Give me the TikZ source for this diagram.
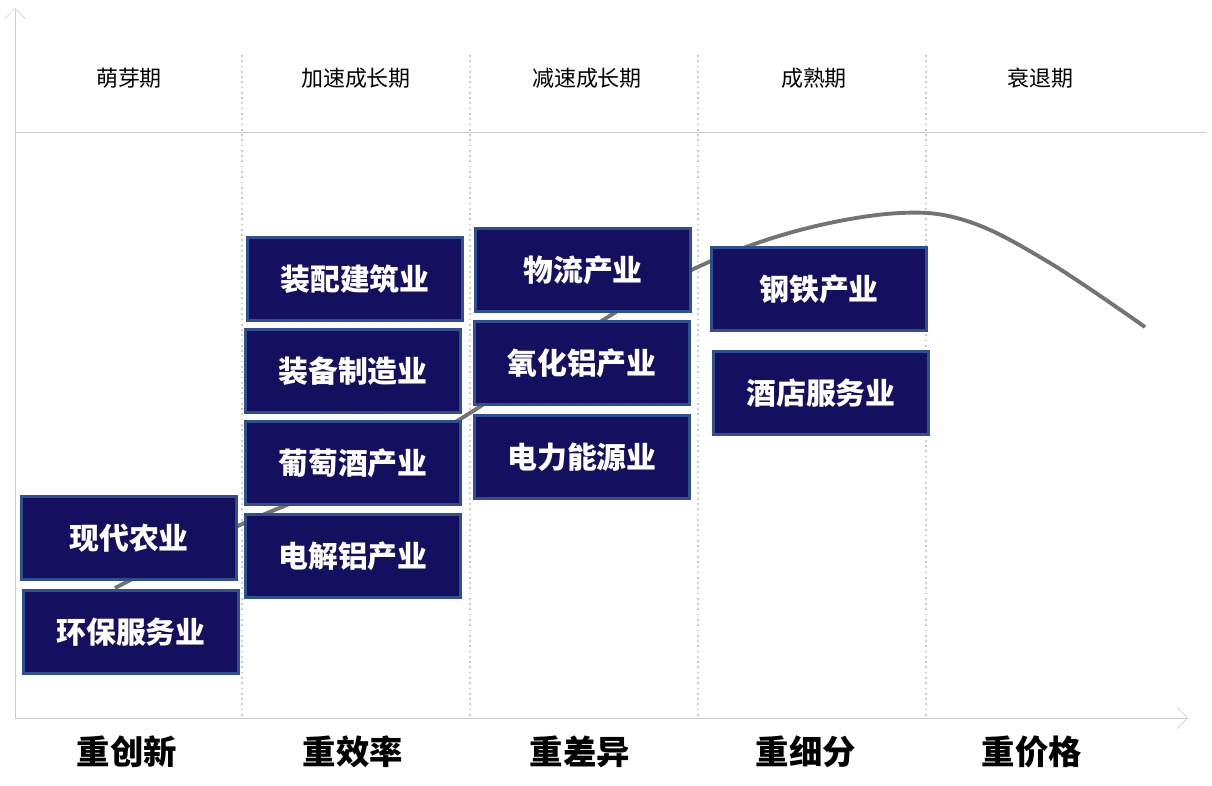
\documentclass[tikz,border=0pt]{standalone}
\usepackage{fontspec}
\setmainfont{Noto Sans CJK SC}
\usetikzlibrary{positioning,arrows.meta}
\definecolor{boxfill}{HTML}{140F5E}
\definecolor{boxline}{HTML}{2F4F8F}
\tikzset{
    industry/.style={
           rectangle,
           draw=boxline, line width=1.5pt,
           fill=boxfill,
           text=white,
           minimum width=4.3cm,
           minimum height=1.66cm,
           font=\bfseries\fontsize{17}{20}\selectfont,
           },
    stage/.style={font=\fontsize{12.5}{15}\selectfont},
    focus/.style={font=\bfseries\fontsize{19}{22}\selectfont},
    divider/.style={gray!40, line width=1pt, dotted},
}
\begin{document}
\begin{tikzpicture}[x=0.02cm,y=-0.02cm]
 \useasboundingbox (0,0) rectangle (1212,785);
 % axes
 \draw[gray!40, -{Straight Barb[length=6pt,width=12pt]}] (15,718) -- (15,8);
 \draw[gray!40, -{Straight Barb[length=6pt,width=12pt]}] (15,718) -- (1188,718);
 \draw[gray!40] (15,132) -- (1206,132);
 \foreach \x in {242,470,698,926}
   \draw[divider] (\x,55) -- (\x,718);
 % life cycle curve
 \draw[gray!90!black, line width=2.2pt] plot[smooth, tension=0.6] coordinates
   {(115,588) (240,525) (350,478) (470,413) (600,322) (700,266) (800,230) (900,213) (970,222) (1050,263) (1145,327)};
 % stages
 \node[stage] (s1) at (129,78) {萌芽期};
 \node[stage] (s2) at (356,78) {加速成长期};
 \node[stage] (s3) at (587,78) {减速成长期};
 \node[stage] (s4) at (814,78) {成熟期};
 \node[stage] (s5) at (1040,78) {衰退期};
 % industries
 \node[industry] (xdny) at (129,538) {现代农业};
 \node[industry] (hbfw) at (131,632) {环保服务业};
 \node[industry] (zpjz) at (355,279) {装配建筑业};
 \node[industry] (zbzz) at (353,371) {装备制造业};
 \node[industry] (ptj) at (353,463) {葡萄酒产业};
 \node[industry] (djl) at (353,556) {电解铝产业};
 \node[industry] (wl) at (583,270) {物流产业};
 \node[industry] (yhl) at (582,363) {氧化铝产业};
 \node[industry] (dlny) at (582,457) {电力能源业};
 \node[industry] (gt) at (819,289) {钢铁产业};
 \node[industry] (jdfw) at (821,393) {酒店服务业};
 % focus
 \node[focus] (f1) at (127,752) {重创新};
 \node[focus] (f2) at (353,752) {重效率};
 \node[focus] (f3) at (580,752) {重差异};
 \node[focus] (f4) at (806,752) {重细分};
 \node[focus] (f5) at (1032,752) {重价格};
\end{tikzpicture}
\end{document}
